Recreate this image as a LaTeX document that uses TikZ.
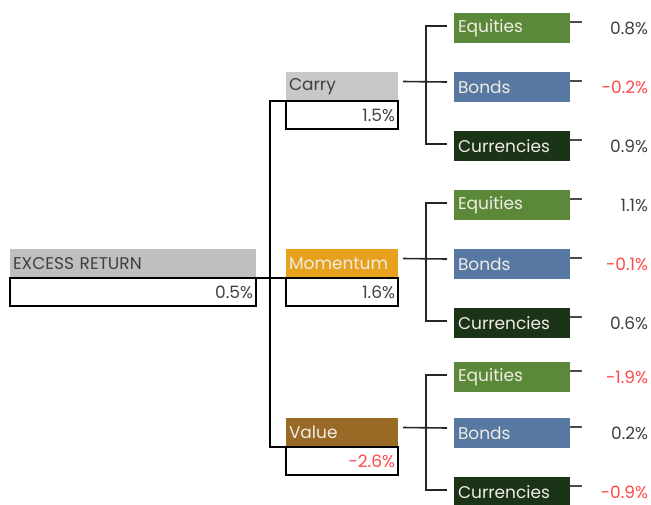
\documentclass[tikz,border=0pt]{standalone}
\usepackage{fontspec}
\setmainfont{Poppins}
\usetikzlibrary{positioning, calc}

\definecolor{rootgrey}{RGB}{191,191,191}
\definecolor{carrygrey}{RGB}{200,200,200}
\definecolor{momorange}{RGB}{232,161,28}
\definecolor{valbrown}{RGB}{153,106,38}
\definecolor{eqgreen}{RGB}{92,136,58}
\definecolor{bdblue}{RGB}{86,120,163}
\definecolor{cudark}{RGB}{27,51,22}
\definecolor{txtdark}{RGB}{64,64,64}
\definecolor{txtlight}{RGB}{240,236,228}
\definecolor{negred}{RGB}{255,72,72}

\begin{document}
\begin{tikzpicture}[
    x=1pt, y=-1pt,
    every node/.style={font=\fontsize{17}{19}\selectfont, inner sep=0pt, outer sep=0pt},
    head/.style={anchor=north west, minimum height=29pt, inner xsep=3pt, text width=#1, align=left},
    valbox/.style={minimum height=28pt, inner xsep=3pt, text width=#1, align=right, draw=black, line width=2.2pt, text=txtdark},
    leaf/.style={anchor=north west, minimum height=30pt, inner xsep=4pt, text width=108pt, align=left, fill=#1, text=txtlight},
    pct/.style={anchor=east, text=txtdark},
    neg/.style={anchor=east, text=negred},
    trunk/.style={draw=black, line width=2.2pt},
    conn/.style={draw=black!85, line width=1.6pt},
    stub/.style={draw=black!70, line width=1.6pt}
  ]
  \useasboundingbox (0,0) rectangle (651,504);

  % root
  \node[head=240pt, fill=rootgrey, text=txtdark] (root) at (10,249) {EXCESS RETURN};
  \node[valbox=240pt, below=0pt of root] (rootv) {0.5\%};

  % factors
  \node[head=106pt, fill=carrygrey, text=txtdark] (carry) at (286,72) {Carry};
  \node[valbox=106pt, below=0pt of carry] (carryv) {1.5\%};
  \node[head=106pt, fill=momorange, text=txtlight] (mom) at (286,249) {Momentum};
  \node[valbox=106pt, below=0pt of mom] (momv) {1.6\%};
  \node[head=106pt, fill=valbrown, text=txtlight] (valf) at (286,418) {Value};
  \node[valbox=106pt, below=0pt of valf, text=negred] (valfv) {-2.6\%};

  \draw[trunk] (rootv.north east) -- (momv.north west);
  \draw[trunk] (carryv.north west) -- ++(-16,0) |- (valfv.north west);

  % carry assets
  \node[leaf=eqgreen] (ceq) at (454,13) {Equities};
  \node[leaf=bdblue] (cbo) at (454,72) {Bonds};
  \node[leaf=cudark] (ccu) at (454,131) {Currencies};
  \node[pct] (ceqp) at (648,28) {0.8\%};
  \node[neg] (cbop) at (648,87) {-0.2\%};
  \node[pct] (ccup) at (648,146) {0.9\%};

  % momentum assets
  \node[leaf=eqgreen] (meq) at (454,190) {Equities};
  \node[leaf=bdblue] (mbo) at (454,249) {Bonds};
  \node[leaf=cudark] (mcu) at (454,308) {Currencies};
  \node[pct] (meqp) at (648,205) {1.1\%};
  \node[neg] (mbop) at (648,264) {-0.1\%};
  \node[pct] (mcup) at (648,323) {0.6\%};

  % value assets
  \node[leaf=eqgreen] (veq) at (454,362) {Equities};
  \node[leaf=bdblue] (vbo) at (454,418) {Bonds};
  \node[leaf=cudark] (vcu) at (454,477) {Currencies};
  \node[neg] (veqp) at (648,377) {-1.9\%};
  \node[pct] (vbop) at (648,433) {0.2\%};
  \node[neg] (vcup) at (648,492) {-0.9\%};

  % brackets
  \draw[conn] ([xshift=5pt,yshift=5pt]carry.east) -- ([xshift=-7pt,yshift=5pt]cbo.west);
  \draw[conn] ([xshift=-7pt,yshift=2pt]ceq.west) -| ([xshift=-28pt,yshift=2pt]ccu.west) -- ([xshift=-7pt,yshift=2pt]ccu.west);
  \draw[conn] ([xshift=5pt,yshift=5pt]mom.east) -- ([xshift=-7pt,yshift=5pt]mbo.west);
  \draw[conn] ([xshift=-7pt,yshift=2pt]meq.west) -| ([xshift=-28pt,yshift=2pt]mcu.west) -- ([xshift=-7pt,yshift=2pt]mcu.west);
  \draw[conn] ([xshift=5pt,yshift=5pt]valf.east) -- ([xshift=-7pt,yshift=5pt]vbo.west);
  \draw[conn] ([xshift=-7pt,yshift=2pt]veq.west) -| ([xshift=-28pt,yshift=2pt]vcu.west) -- ([xshift=-7pt,yshift=2pt]vcu.west);

  % stubs
  \draw[stub] ([yshift=6pt]ceq.east) -- ++(12,0);
  \draw[stub] ([yshift=6pt]cbo.east) -- ++(12,0);
  \draw[stub] ([yshift=6pt]ccu.east) -- ++(12,0);
  \draw[stub] ([yshift=6pt]meq.east) -- ++(12,0);
  \draw[stub] ([yshift=6pt]mbo.east) -- ++(12,0);
  \draw[stub] ([yshift=6pt]mcu.east) -- ++(12,0);
  \draw[stub] ([yshift=6pt]veq.east) -- ++(12,0);
  \draw[stub] ([yshift=6pt]vbo.east) -- ++(12,0);
  \draw[stub] ([yshift=6pt]vcu.east) -- ++(12,0);
\end{tikzpicture}
\end{document}
